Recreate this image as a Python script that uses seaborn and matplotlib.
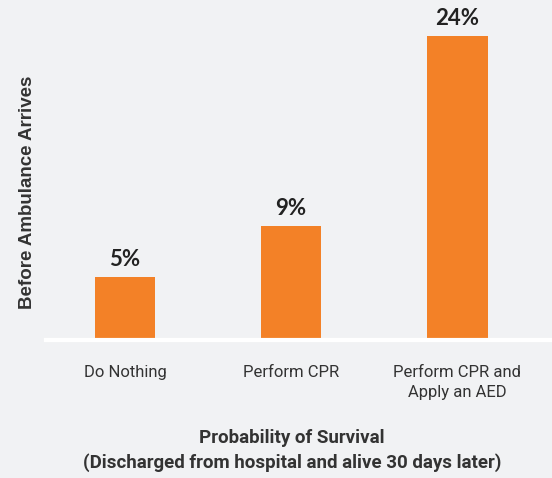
import matplotlib
matplotlib.use("Agg")
import matplotlib.pyplot as plt
import seaborn as sns
import pandas as pd

categories = ["Do Nothing", "Perform CPR", "Perform CPR and\nApply an AED"]
survival_pct = [5, 9, 24]
value_labels = ["5%", "9%", "24%"]

BG = "#F1F2F4"
ORANGE = "#F38127"
TEXT = "#333333"

sns.set_theme(style="white")
plt.rcParams["font.family"] = ["Liberation Sans Narrow", "Roboto", "DejaVu Sans"]

df = pd.DataFrame({"action": categories, "pct": survival_pct})

fig = plt.figure(figsize=(5.52, 4.78), dpi=100, facecolor=BG)
ax = fig.add_axes([46 / 552, (478 - 340) / 478, 1 - 46 / 552, 340 / 478])
ax.set_facecolor(BG)

sns.barplot(data=df, x="action", y="pct", color=ORANGE, saturation=1,
            width=0.367, linewidth=0, ax=ax)

ax.set_xlim(-0.476, 2.572)
ax.set_ylim(0, 26.8)

for i, (v, lab) in enumerate(zip(survival_pct, value_labels)):
    ax.text(i, v + 0.55, lab, ha="center", va="bottom", fontsize=16,
            fontweight="bold", color="#222222", family=["Lato", "DejaVu Sans"])

for s in ["top", "right", "left"]:
    ax.spines[s].set_visible(False)
ax.spines["bottom"].set_color("white")
ax.spines["bottom"].set_linewidth(3)
ax.set_yticks([])
ax.tick_params(axis="x", length=0, pad=18, labelsize=12, labelcolor=TEXT)
for t in ax.get_xticklabels():
    t.set_linespacing(1.45)
ax.set_xlabel("")
ax.set_ylabel("")

fig.text(28 / 552, 1 - 192 / 478, "Before Ambulance Arrives", rotation=90,
         ha="center", va="center", fontsize=13.5, fontweight="bold", color=TEXT,
         family=["Liberation Sans", "DejaVu Sans"])
fig.text(292 / 552, 1 - 438 / 478, "Probability of Survival",
         ha="center", va="center", fontsize=13.5, fontweight="bold", color=TEXT)
fig.text(292 / 552, 1 - 463 / 478,
         "(Discharged from hospital and alive 30 days later)",
         ha="center", va="center", fontsize=13.5, fontweight="bold", color=TEXT)

fig.savefig("out.png", dpi=100, facecolor=BG)
